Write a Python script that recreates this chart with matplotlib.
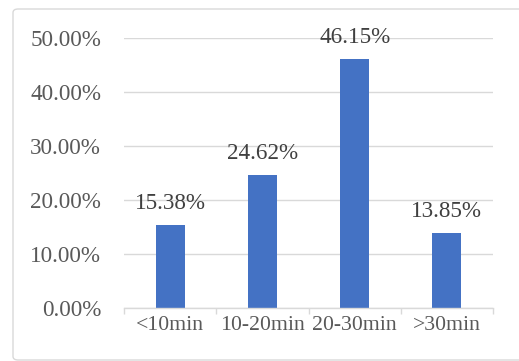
import matplotlib
matplotlib.use("Agg")
import matplotlib.pyplot as plt
from matplotlib.patches import FancyBboxPatch
from matplotlib.ticker import PercentFormatter

# commute time share per group
categories = ["<10min", "10-20min", "20-30min", ">30min"]
shares = [15.38, 24.62, 46.15, 13.85]

plt.rcParams['font.family'] = ['Liberation Serif', 'DejaVu Serif']

fig = plt.figure(figsize=(5.19, 3.61), dpi=100)

# outer chart frame
frame = FancyBboxPatch((13 / 519, 1 - 360 / 361), 1.2, 351 / 361,
                       boxstyle="round,pad=0,rounding_size=0.01",
                       transform=fig.transFigure, facecolor="none",
                       edgecolor="#D9D9D9", linewidth=1.0, zorder=-1)
fig.patches.append(frame)

ax = fig.add_axes([124 / 519, 1 - 308 / 361, 369 / 519, 270 / 361])
ax.patch.set_alpha(0)

x = range(len(categories))
bars = ax.bar(x, shares, width=0.315, color="#4472C4", zorder=3)

for xi, v in zip(x, shares):
    ax.annotate(f"{v:.2f}%", (xi, v), xytext=(0, 11.5), textcoords="offset points",
                ha="center", va="baseline", fontsize=16.7, color="#404040")

ax.set_xlim(-0.5, 3.5)
ax.set_ylim(0, 50)
ax.set_yticks([0, 10, 20, 30, 40, 50])
ax.yaxis.set_major_formatter(PercentFormatter(decimals=2))
ax.grid(axis="y", color="#D9D9D9", linewidth=1.0, zorder=0)

ax.set_xticks(list(x))
ax.set_xticklabels(categories)
ax.set_xticks([-0.5, 0.5, 1.5, 2.5, 3.5], minor=True)
ax.tick_params(axis="x", which="major", length=0, pad=6, labelsize=15.7, labelcolor="#595959")
ax.tick_params(axis="x", which="minor", length=4.5, width=1.0, color="#D9D9D9")
ax.tick_params(axis="y", length=0, pad=16.5, labelsize=16.7, labelcolor="#595959")

for side in ["top", "right", "left"]:
    ax.spines[side].set_visible(False)
ax.spines["bottom"].set_color("#D9D9D9")
ax.spines["bottom"].set_linewidth(1.0)
ax.spines["bottom"].set_zorder(4)

fig.savefig("out.png", dpi=100)
